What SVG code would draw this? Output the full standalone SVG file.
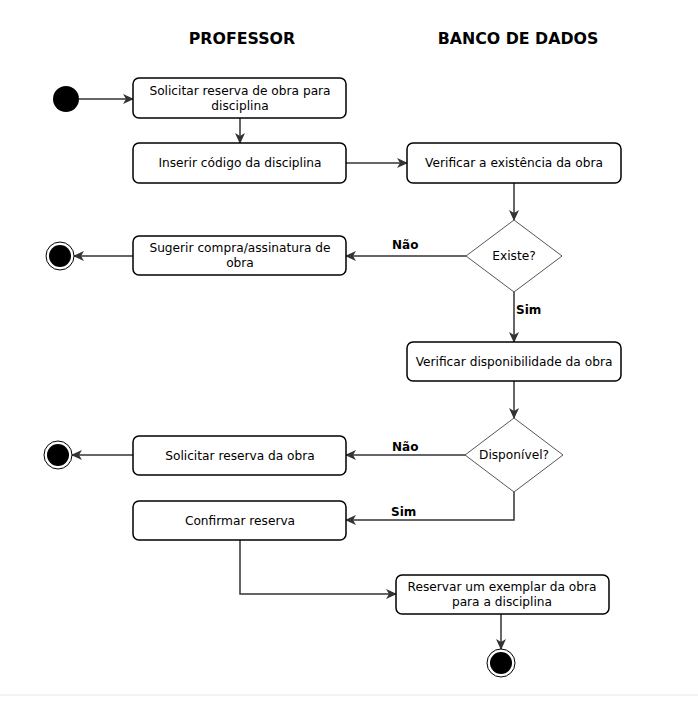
<svg xmlns="http://www.w3.org/2000/svg" width="698" height="702" viewBox="0 0 698 702">
<defs>
<marker id="arr" markerWidth="12" markerHeight="12" refX="10" refY="5" orient="auto" markerUnits="userSpaceOnUse" viewBox="0 0 12 10">
<path d="M0,0 L11,5 L0,10 L3,5 Z" fill="#333"/>
</marker>
<style>
.box{fill:#fff;stroke:#000;stroke-width:1.5}
.dia{fill:#fff;stroke:#555;stroke-width:1}
.t{font-family:"DejaVu Sans",Verdana,sans-serif;font-size:12.2px;fill:#000;text-anchor:middle}
.h{font-family:"DejaVu Sans","Liberation Sans",sans-serif;font-size:15.8px;font-weight:bold;fill:#000;text-anchor:middle}
.lbl{font-family:"DejaVu Sans",Verdana,sans-serif;font-size:12px;font-weight:bold;fill:#000}
.c{fill:none;stroke:#333;stroke-width:1.5;marker-end:url(#arr)}
.endo{fill:#fff;stroke:#000;stroke-width:1}
</style>
</defs>
<rect width="698" height="702" fill="#fff"/>
<line x1="0" y1="695" x2="698" y2="695" stroke="#e6e6e6" stroke-width="1"/>
<g id="headers">
<text class="h" x="242" y="44">PROFESSOR</text>
<text class="h" x="518" y="44">BANCO DE DADOS</text>
</g>
<g id="connectors">
<path class="c" d="M79,99 L133,99"/>
<path class="c" d="M240,118 L240,143"/>
<path class="c" d="M346,163 L407,163"/>
<path class="c" d="M514,183 L514,220"/>
<path class="c" d="M466,256 L346,256"/>
<path class="c" d="M133,256 L74,256"/>
<path class="c" d="M514,292 L514,342"/>
<path class="c" d="M514,381 L514,418"/>
<path class="c" d="M466,455 L346,455"/>
<path class="c" d="M133,455 L72,455"/>
<path class="c" d="M514,492 L514,520 L346,520"/>
<path class="c" d="M240,540 L240,594 L396,594"/>
<path class="c" d="M501,614 L501,649"/>
<text class="lbl" x="392" y="249">Não</text>
<text class="lbl" x="516" y="314">Sim</text>
<text class="lbl" x="392" y="451">Não</text>
<text class="lbl" x="391" y="516">Sim</text>
</g>
<g id="start"><circle cx="66" cy="99" r="13" fill="#000"/></g>
<g id="n1"><rect class="box" x="133" y="78" width="213" height="40" rx="6"/><text class="t" x="240" y="95">Solicitar reserva de obra para</text><text class="t" x="240" y="110">disciplina</text></g>
<g id="n2"><rect class="box" x="133" y="143" width="213" height="40" rx="6"/><text class="t" x="240" y="167">Inserir código da disciplina</text></g>
<g id="n3"><rect class="box" x="407" y="143" width="214" height="40" rx="6"/><text class="t" x="514" y="167">Verificar a existência da obra</text></g>
<g id="d1"><path class="dia" d="M514,220 L562,256 L514,292 L466,256 Z"/><text class="t" x="514" y="260">Existe?</text></g>
<g id="n4"><rect class="box" x="133" y="236" width="213" height="39" rx="6"/><text class="t" x="240" y="252">Sugerir compra/assinatura de</text><text class="t" x="240" y="267">obra</text></g>
<g id="end1"><circle class="endo" cx="60" cy="256" r="14"/><circle cx="60" cy="256" r="11" fill="#000"/></g>
<g id="n5"><rect class="box" x="407" y="342" width="214" height="39" rx="6"/><text class="t" x="514" y="366">Verificar disponibilidade da obra</text></g>
<g id="d2"><path class="dia" d="M514,418 L563,455 L514,492 L465,455 Z"/><text class="t" x="514" y="459">Disponível?</text></g>
<g id="n6"><rect class="box" x="133" y="436" width="213" height="39" rx="6"/><text class="t" x="240" y="460">Solicitar reserva da obra</text></g>
<g id="end2"><circle class="endo" cx="58" cy="455" r="14"/><circle cx="58" cy="455" r="11" fill="#000"/></g>
<g id="n7"><rect class="box" x="133" y="501" width="213" height="39" rx="6"/><text class="t" x="240" y="525">Confirmar reserva</text></g>
<g id="n8"><rect class="box" x="396" y="575" width="213" height="39" rx="6"/><text class="t" x="502" y="591">Reservar um exemplar da obra</text><text class="t" x="502" y="606">para a disciplina</text></g>
<g id="end3"><circle class="endo" cx="501" cy="663" r="14"/><circle cx="501" cy="663" r="11" fill="#000"/></g>
</svg>
